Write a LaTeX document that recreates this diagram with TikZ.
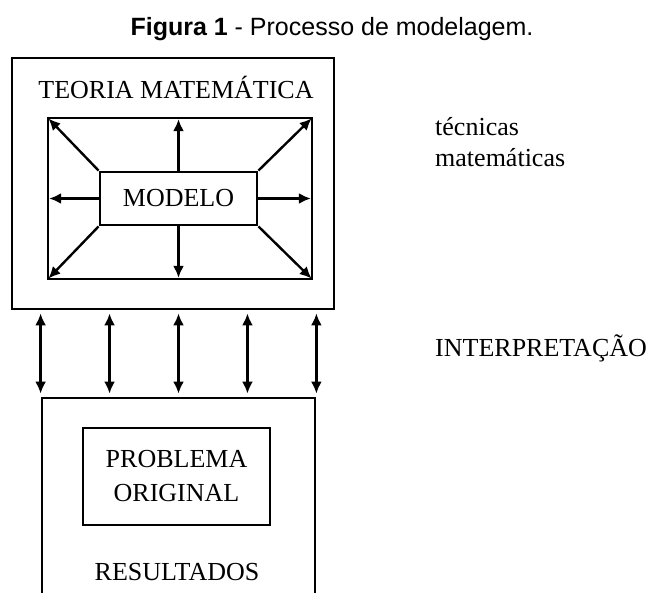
\documentclass[tikz,border=0pt]{standalone}
\usepackage{fontspec}
\setmainfont{Liberation Serif}
\setsansfont{Liberation Sans}
\usetikzlibrary{arrows.meta,calc}
\begin{document}
\begin{tikzpicture}[x=1pt,y=-1pt,
  caixa/.style={draw=black, line width=2.8pt, inner sep=0pt},
  rotulo/.style={font=\fontsize{26}{31}\selectfont, inner sep=0pt},
  seta/.style={-{Latex[length=12pt,width=11pt]}, line width=2.4pt, shorten >=2.5pt},
  dupla/.style={{Latex[length=12pt,width=11pt]}-{Latex[length=12pt,width=11pt]}, line width=2.4pt, shorten >=3pt, shorten <=3pt}]
\clip (0,0) rectangle (653,592);
\node [font=\sffamily\fontsize{25}{30}\selectfont, inner sep=0pt] (titulo) at (332,29) {\textbf{Figura 1} - Processo de modelagem.};
\node [caixa, minimum width=322pt, minimum height=251pt] (teoria) at (173,183.5) {};
\node [rotulo] (teoriatxt) at (176,87) {TEORIA MATEMÁTICA};
\node [caixa, minimum width=264pt, minimum height=161pt] (campo) at (180,198.5) {};
\node [caixa, rotulo, minimum width=157pt, minimum height=53pt] (modelo) at (178.5,198.5) {MODELO};
\draw [seta] (modelo.north) -- (modelo.north |- campo.north);
\draw [seta] (modelo.south) -- (modelo.south |- campo.south);
\draw [seta] (modelo.west) -- (campo.west);
\draw [seta] (modelo.east) -- (campo.east);
\draw [seta] (modelo.north west) -- (campo.north west);
\draw [seta] (modelo.north east) -- (campo.north east);
\draw [seta] (modelo.south west) -- (campo.south west);
\draw [seta] (modelo.south east) -- (campo.south east);
\node [caixa, minimum width=273pt, minimum height=242pt] (resultados) at (178.5,519) {};
\node [caixa, rotulo, align=center, minimum width=187pt, minimum height=97pt, font=\fontsize{26}{34}\selectfont] (problema) at (176.5,476.5) {PROBLEMA\\ORIGINAL};
\node [rotulo] (resultadostxt) at (177,572) {RESULTADOS};
\foreach \f [count=\i] in {0,0.25,0.5,0.75,1} {
  \coordinate (b\i) at ($(resultados.north west)!\f!(resultados.north east)$);
  \draw [dupla] (b\i |- teoria.south) -- (b\i);
}
\node [rotulo, anchor=west, align=left] (tecnicas) at (435,142) {técnicas\\matemáticas};
\node [rotulo, anchor=west] (interpretacao) at (435,348) {INTERPRETAÇÃO};
\end{tikzpicture}
\end{document}
